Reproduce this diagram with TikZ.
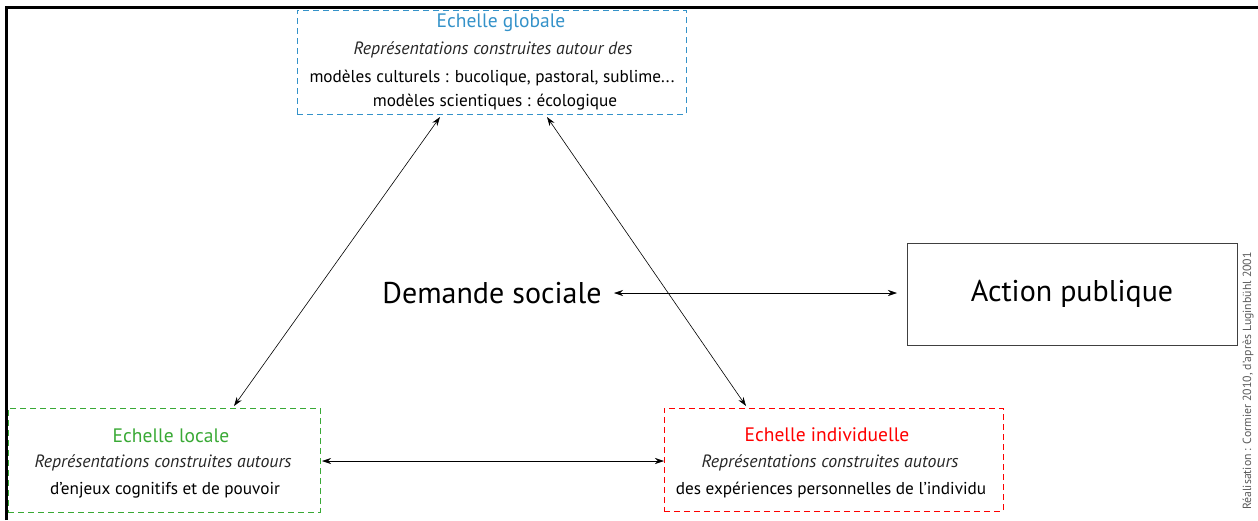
\documentclass[tikz,border=0pt]{standalone}
\usepackage{fontspec}
\setmainfont{PT Sans}
\usetikzlibrary{arrows.meta}
\definecolor{gblue}{RGB}{52,146,201}
\definecolor{lgreen}{RGB}{57,169,53}
\definecolor{ired}{RGB}{255,0,0}
\definecolor{credgray}{RGB}{90,90,90}
\tikzset{
  scalebox/.style={draw, dashed, dash pattern=on 6pt off 4pt, line width=0.9pt, inner sep=0pt},
  titletxt/.style={font=\fontsize{19.5}{22}\selectfont, inner sep=0pt},
  bodytxt/.style={font=\fontsize{17.2}{20}\selectfont, inner sep=0pt, text=black},
  itxt/.style={font=\fontsize{17.8}{20}\selectfont\itshape, inner sep=0pt, text=black!85},
  link/.style={{Stealth[length=9pt,width=6pt]}-{Stealth[length=9pt,width=6pt]}, line width=0.6pt}
}
\begin{document}
\begin{tikzpicture}[x=1pt,y=-1pt]
\useasboundingbox (0,0) rectangle (1258,520);
% frame
\draw[line width=2.2pt] (6.5,520) -- (6.5,7.5) -- (1258,7.5);
% boxes
\node[scalebox, draw=gblue, minimum width=389pt, minimum height=104pt] (glob) at (491.5,62) {};
\node[scalebox, draw=lgreen, minimum width=312pt, minimum height=104pt] (loc) at (164,460) {};
\node[scalebox, draw=ired, minimum width=339pt, minimum height=103pt] (ind) at (833.5,459.5) {};
\node[draw=black!75, line width=0.9pt, minimum width=330pt, minimum height=102pt, inner sep=0pt] (act) at (1072,294) {};
% global texts
\node[titletxt, text=gblue] (gt) at (501,23) {Echelle globale};
\node[itxt] (gi) at (493,50) {Représentations construites autour des};
\node[bodytxt] (gb1) at (492,78) {modèles culturels : bucolique, pastoral, sublime...};
\node[bodytxt] (gb2) at (495,102) {modèles scientiques : écologique};
% local texts
\node[titletxt, text=lgreen] (lt) at (171,436) {Echelle locale};
\node[itxt] (li) at (163,463) {Représentations construites autours};
\node[bodytxt] (lb) at (165,490) {d'enjeux cognitifs et de pouvoir};
% individual texts
\node[titletxt, text=ired] (it) at (827,435) {Echelle individuelle};
\node[itxt] (ii) at (830,463) {Représentations construites autours};
\node[bodytxt] (ib) at (831,490) {des expériences personnelles de l'individu};
% centre
\node[font=\fontsize{30}{33}\selectfont, inner sep=0pt] (dem) at (492,293) {Demande sociale};
\node[font=\fontsize{30}{33}\selectfont, inner sep=0pt] (acttxt) at (act.center) {Action publique};
% credit
\node[font=\fontsize{11.8}{13}\selectfont, text=credgray, rotate=90, inner sep=0pt] (cred) at (1248,381) {Réalisation : Cormier 2010, d'après Luginbühl 2001};
% connector ends
\coordinate (g1) at (440,117);
\coordinate (l1) at (234,406);
\coordinate (g2) at (547,117);
\coordinate (i1) at (746,406);
\coordinate (l2) at (322,461);
\coordinate (i2) at (664,461);
\coordinate (d1) at (614,293);
\coordinate (a1) at (897,293);
\draw[link] (g1) -- (l1);
\draw[link] (g2) -- (i1);
\draw[link] (l2) -- (i2);
\draw[link] (d1) -- (a1);
\end{tikzpicture}
\end{document}
